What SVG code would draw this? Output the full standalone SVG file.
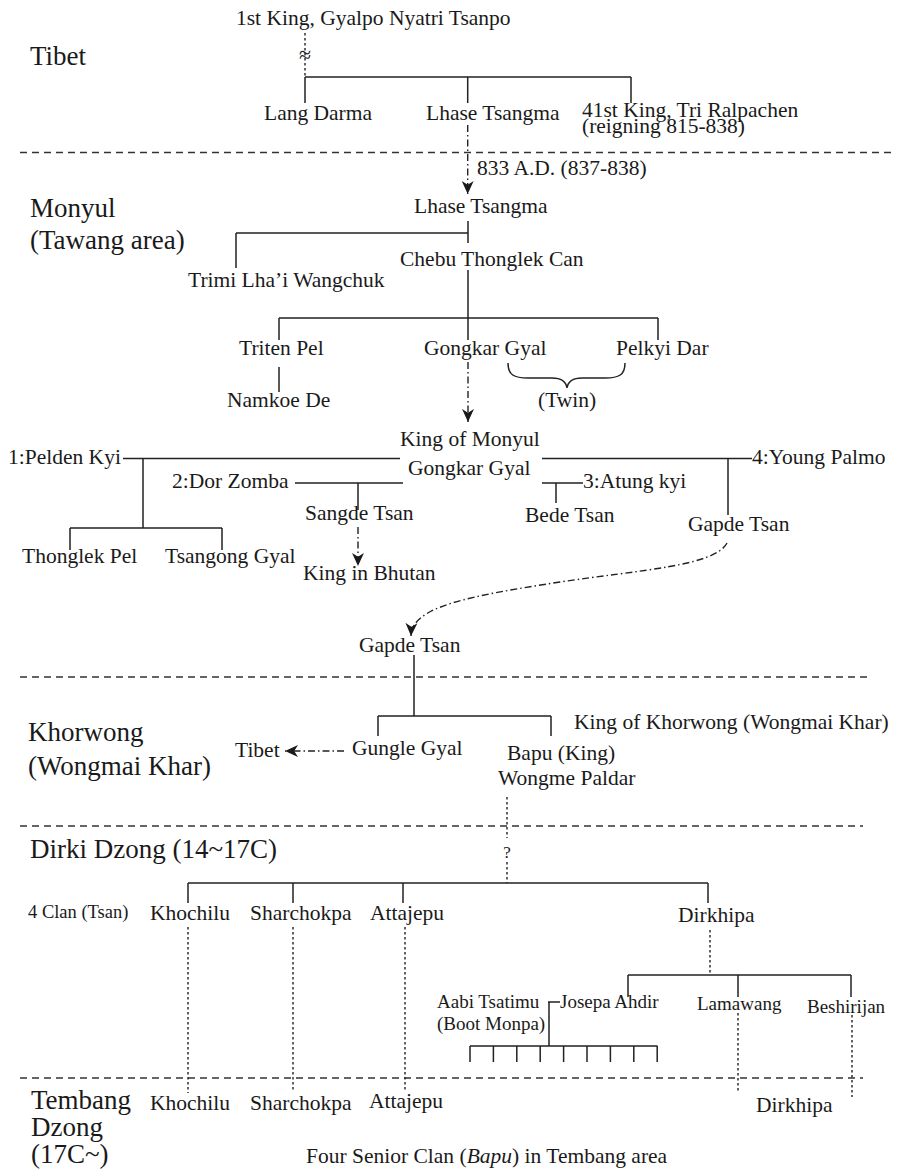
<svg xmlns="http://www.w3.org/2000/svg" width="899" height="1170" viewBox="0 0 899 1170">
  <style>
    text { font-family: "Liberation Serif", "Times New Roman", serif; fill: #1a1a1a; }
    .n { font-size: 21.5px; }
    .region { font-size: 27px; }
    .sm { font-size: 19px; }
    .xs { font-size: 18.5px; }
    .solid { stroke: #222; stroke-width: 1.5; fill: none; }
    .dot { stroke: #222; stroke-width: 1.4; fill: none; stroke-dasharray: 2.5 2.5; }
    .dashdot { stroke: #222; stroke-width: 1.4; fill: none; stroke-dasharray: 7 3 1.5 3; }
    .sep { stroke: #333; stroke-width: 1.5; fill: none; stroke-dasharray: 7 5; }
  </style>
  <defs>
    <marker id="arrow" viewBox="0 0 12 12" refX="12" refY="6" markerWidth="13" markerHeight="13" markerUnits="userSpaceOnUse" orient="auto">
      <path d="M0,0.5 L12,6 L0,11.5 L3.5,6 z" fill="#1a1a1a"/>
    </marker>
  </defs>

  <rect width="899" height="1170" fill="#fff"/>

  <!-- period separators -->
  <g id="separators">
    <line class="sep" x1="20" y1="152.5" x2="893" y2="152.5"/>
    <line class="sep" x1="20" y1="677" x2="867" y2="677"/>
    <line class="sep" x1="20" y1="826" x2="863" y2="826"/>
    <line class="sep" x1="20" y1="1078" x2="863" y2="1078"/>
  </g>

  <!-- period / region labels -->
  <g id="regions">
    <text class="region" x="30" y="65">Tibet</text>
    <text class="region" x="30" y="217">Monyul</text>
    <text class="region" x="30" y="249">(Tawang area)</text>
    <text class="region" x="28" y="741">Khorwong</text>
    <text class="region" x="28" y="775">(Wongmai Khar)</text>
    <text class="region" x="30" y="858">Dirki Dzong (14~17C)</text>
    <text class="region" x="31" y="1109">Tembang</text>
    <text class="region" x="31" y="1136">Dzong</text>
    <text class="region" x="31" y="1163">(17C~)</text>
  </g>

  <!-- lineage connectors -->
  <g id="connectors">
    <!-- Tibet -->
    <line class="dot" x1="305" y1="33" x2="305" y2="77"/>
    <path class="solid" d="M305,77 H631 M305,77 V103 M467.7,77 V103 M631,77 V103"/>
    <line class="dashdot" x1="467.7" y1="125" x2="467.7" y2="194" marker-end="url(#arrow)"/>
    <!-- Monyul -->
    <path class="solid" d="M468,221 V243 M236,233 H468 M236,233 V268"/>
    <path class="solid" d="M468,270 V340 M279,318 H658 M279,318 V340 M658,318 V340"/>
    <path class="solid" d="M279,367 V392"/>
    <path class="solid" d="M508,363 C508,375 514,378 528,378 L552,378 C561,378 566,381 567,388 C568,381 573,378 582,378 L605,378 C619,378 625,375 625,363"/>
    <line class="dashdot" x1="468" y1="362" x2="468" y2="422" marker-end="url(#arrow)"/>
    <path class="solid" d="M123,458.5 H400 M542,458.5 H752"/>
    <path class="solid" d="M143,458.5 V528 M70,528 H222 M70,528 V550 M222,528 V550"/>
    <path class="solid" d="M295,483 H403 M358,483 V510"/>
    <path class="solid" d="M542,483 H583 M556,483 V503"/>
    <path class="solid" d="M728,458.5 V515"/>
    <line class="dashdot" x1="358" y1="527" x2="358" y2="566" marker-end="url(#arrow)"/>
    <path class="dashdot" d="M727,543 C715,566 640,570 560,582 C470,596 412,606 411,636" marker-end="url(#arrow)"/>
    <!-- Khorwong -->
    <path class="solid" d="M414,655 V716 M378,716 H551 M378,716 V736 M551,716 V736"/>
    <line class="dashdot" x1="344" y1="751" x2="285" y2="751" marker-end="url(#arrow)"/>
    <path class="dot" d="M507,797 V838 M507,862 V883"/>
    <!-- Dirki Dzong -->
    <path class="solid" d="M188,883 H708 M188,883 V903 M293,883 V903 M403,883 V903 M708,883 V903"/>
    <path class="dot" d="M188,927 V1093 M293,927 V1092 M405,927 V1090 M710,930 V975"/>
    <path class="solid" d="M628,975 H851 M628,975 V997 M738,975 V997 M851,975 V997"/>
    <path class="dot" d="M738,1013 V1093 M852,1015 V1097"/>
    <path class="solid" d="M548,1002 H560 M549,1002 V1046 M470,1046 H657.5"/>
    <path class="solid" d="M470,1046 V1062 M493.4,1046 V1062 M516.8,1046 V1062 M540.2,1046 V1062 M563.6,1046 V1062 M587,1046 V1062 M610.4,1046 V1062 M633.8,1046 V1062 M657.2,1046 V1062"/>
  </g>

  <!-- persons -->
  <g id="n-nyatri"><text class="n" x="236" y="25">1st King, Gyalpo Nyatri Tsanpo</text></g>
  <g id="n-approx"><text x="305" y="62" font-size="22" text-anchor="middle">≈</text></g>
  <g id="n-langdarma"><text class="n" x="264" y="120">Lang Darma</text></g>
  <g id="n-lhase-tibet"><text class="n" x="426" y="120">Lhase Tsangma</text></g>
  <g id="n-ralpachen">
    <text class="n" x="582" y="117">41st King, Tri Ralpachen</text>
    <text class="n" x="582" y="133">(reigning 815-838)</text>
  </g>
  <g id="n-date"><text class="n" x="477" y="175">833 A.D. (837-838)</text></g>
  <g id="n-lhase-monyul"><text class="n" x="414" y="213">Lhase Tsangma</text></g>
  <g id="n-chebu"><text class="n" x="400" y="266">Chebu Thonglek Can</text></g>
  <g id="n-trimi"><text class="n" x="188" y="287">Trimi Lha’i Wangchuk</text></g>
  <g id="n-triten"><text class="n" x="239" y="355">Triten Pel</text></g>
  <g id="n-gongkar"><text class="n" x="424" y="355">Gongkar Gyal</text></g>
  <g id="n-pelkyi"><text class="n" x="616" y="355">Pelkyi Dar</text></g>
  <g id="n-namkoe"><text class="n" x="227" y="407">Namkoe De</text></g>
  <g id="n-twin"><text class="n" x="538" y="407">(Twin)</text></g>
  <g id="n-king-monyul">
    <text class="n" x="400" y="446">King of Monyul</text>
    <text class="n" x="408" y="475">Gongkar Gyal</text>
  </g>
  <g id="n-pelden"><text class="n" x="8" y="464">1:Pelden Kyi</text></g>
  <g id="n-young"><text class="n" x="752" y="464">4:Young Palmo</text></g>
  <g id="n-dorzomba"><text class="n" x="172" y="488">2:Dor Zomba</text></g>
  <g id="n-atung"><text class="n" x="583" y="488">3:Atung kyi</text></g>
  <g id="n-sangde"><text class="n" x="305" y="520">Sangde Tsan</text></g>
  <g id="n-bede"><text class="n" x="525" y="522">Bede Tsan</text></g>
  <g id="n-gapde1"><text class="n" x="688" y="531">Gapde Tsan</text></g>
  <g id="n-thonglek"><text class="n" x="22" y="563">Thonglek Pel</text></g>
  <g id="n-tsangong"><text class="n" x="165" y="563">Tsangong Gyal</text></g>
  <g id="n-bhutan"><text class="n" x="303" y="580">King in Bhutan</text></g>
  <g id="n-gapde2"><text class="n" x="359" y="652">Gapde Tsan</text></g>
  <g id="n-king-khorwong"><text class="n" x="574" y="729">King of Khorwong (Wongmai Khar)</text></g>
  <g id="n-tibet-dest"><text class="n" x="235" y="757">Tibet</text></g>
  <g id="n-gungle"><text class="n" x="352" y="755">Gungle Gyal</text></g>
  <g id="n-bapu">
    <text class="n" x="507" y="760">Bapu (King)</text>
    <text class="n" x="498" y="785">Wongme Paldar</text>
  </g>
  <g id="n-unknown"><text x="507" y="858" font-size="17" text-anchor="middle">?</text></g>
  <g id="n-clan-label"><text class="xs" x="28" y="918">4 Clan (Tsan)</text></g>
  <g id="n-khochilu"><text class="n" x="150" y="920">Khochilu</text></g>
  <g id="n-sharchokpa"><text class="n" x="250" y="920">Sharchokpa</text></g>
  <g id="n-attajepu"><text class="n" x="370" y="920">Attajepu</text></g>
  <g id="n-dirkhipa"><text class="n" x="678" y="922">Dirkhipa</text></g>
  <g id="n-aabi">
    <text class="sm" x="437" y="1008">Aabi Tsatimu</text>
    <text class="sm" x="437" y="1030">(Boot Monpa)</text>
  </g>
  <g id="n-josepa"><text class="sm" x="560" y="1008">Josepa Ahdir</text></g>
  <g id="n-lamawang"><text class="sm" x="697" y="1010">Lamawang</text></g>
  <g id="n-beshirijan"><text class="sm" x="807" y="1013">Beshirijan</text></g>
  <g id="n-khochilu2"><text class="n" x="150" y="1110">Khochilu</text></g>
  <g id="n-sharchokpa2"><text class="n" x="250" y="1110">Sharchokpa</text></g>
  <g id="n-attajepu2"><text class="n" x="369" y="1108">Attajepu</text></g>
  <g id="n-dirkhipa2"><text class="n" x="756" y="1112">Dirkhipa</text></g>
  <g id="n-caption"><text class="n" x="306" y="1163">Four Senior Clan (<tspan font-style="italic">Bapu</tspan>) in Tembang area</text></g>
</svg>
